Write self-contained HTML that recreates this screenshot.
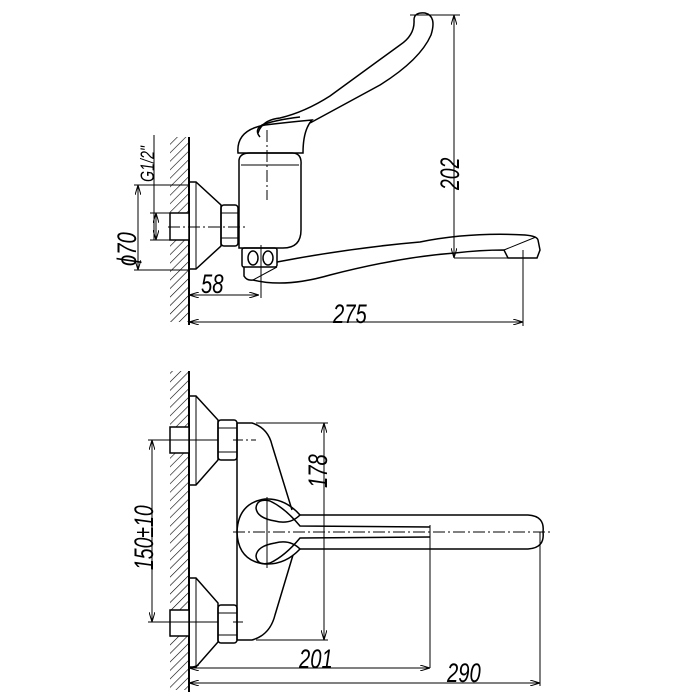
<!DOCTYPE html>
<html><head><meta charset="utf-8"><style>
html,body{margin:0;padding:0;background:#fff;}
svg{display:block}
text{font-family:"Liberation Sans",sans-serif;font-style:italic;fill:#000;}
</style></head><body>
<svg width="700" height="700" viewBox="0 0 700 700" xmlns="http://www.w3.org/2000/svg">
<defs>
<pattern id="h" width="6" height="6" patternUnits="userSpaceOnUse" patternTransform="rotate(45)">
<line x1="0" y1="0" x2="0" y2="6" stroke="#000" stroke-width="1.2"/>
</pattern>
<marker id="a" viewBox="0 0 10 6" refX="10" refY="3" markerWidth="10" markerHeight="6" orient="auto-start-reverse" markerUnits="userSpaceOnUse">
<path d="M0,0 L10,3 L0,6" fill="none" stroke="#000" stroke-width="1"/>
</marker>
</defs>
<g fill="none" stroke="#000" stroke-width="1.5">
<rect x="170" y="137" width="19" height="76" fill="url(#h)" stroke="none"/>
<rect x="170" y="240" width="19" height="82" fill="url(#h)" stroke="none"/>
<line x1="189" y1="137" x2="189" y2="325" stroke-width="2"/>
<rect x="170" y="213" width="19" height="27" fill="#fff"/>
<path d="M189,182 L196,182 L221,205 L221,246 L196,269 L189,269"/>
<line x1="196" y1="182" x2="196" y2="269" stroke-width="1"/>
<rect x="221" y="205" width="17" height="41" rx="3"/>
<line x1="221" y1="213" x2="238" y2="213" stroke-width="1"/>
<line x1="221" y1="238" x2="238" y2="238" stroke-width="1"/>
<path d="M239,160 Q240,153 250,153 L292,153 Q302,153 301,165 L301,230 Q301,248 283,248 L239,248 Z"/>
<line x1="241" y1="165" x2="299" y2="165" stroke-width="1"/>
<path d="M238,153 Q236,130 265,125 Q290,122 312,120 Q303,130 303,153 Z"/>
<path d="M258,133 Q262,120 280,118 Q305,112 330,96 L400,45 Q415,35 414,20 Q414,12 425,13 Q437,16 431,35 Q420,60 380,85 L310,123"/>
<path d="M260,137 Q254,130 262,125 Q275,120 300,117"/>
<line x1="267" y1="130" x2="267" y2="200" stroke-width="1" stroke-dasharray="12,3,2,3"/>
<line x1="168" y1="227" x2="247" y2="227" stroke-width="1" stroke-dasharray="12,3,2,3"/>
<rect x="242" y="248" width="35" height="19" rx="2"/>
<ellipse cx="253" cy="258" rx="5" ry="7"/>
<ellipse cx="268" cy="258" rx="5" ry="7"/>
<line x1="261" y1="245" x2="261" y2="298" stroke-width="1"/>
<path d="M244,267 L244,276 Q247,281 253,280"/>
<path d="M277,262 Q350,248 420,242 Q470,232 525,235 Q537,236 538,240 L540,250 L537,258 L508,258 L504,250 Q480,250 455,253 Q400,257 330,275 Q285,288 253,280"/>
<path d="M277,267 L253,280" stroke-width="1"/>
<path d="M504,250 L536,237" stroke-width="1"/>
<line x1="454" y1="258" x2="508" y2="258" stroke-width="1"/>
<g stroke-width="1">
<line x1="410" y1="15" x2="460" y2="15"/>
<line x1="454" y1="15" x2="454" y2="258" marker-start="url(#a)" marker-end="url(#a)"/>
<line x1="523" y1="250" x2="523" y2="326"/>
<line x1="189" y1="322" x2="523" y2="322" marker-start="url(#a)" marker-end="url(#a)"/>
<line x1="189" y1="295" x2="259" y2="295" marker-start="url(#a)" marker-end="url(#a)"/>
<line x1="134" y1="185" x2="189" y2="185"/>
<line x1="134" y1="270" x2="189" y2="270"/>
<line x1="138" y1="185" x2="138" y2="270" marker-start="url(#a)" marker-end="url(#a)"/>
<line x1="154" y1="135" x2="154" y2="240"/>
<line x1="150" y1="213" x2="170" y2="213"/>
<line x1="150" y1="240" x2="170" y2="240"/>
<line x1="156" y1="213" x2="156" y2="240" marker-start="url(#a)" marker-end="url(#a)"/>
</g>

<rect x="170" y="371" width="19" height="56" fill="url(#h)" stroke="none"/>
<rect x="170" y="453" width="19" height="157" fill="url(#h)" stroke="none"/>
<rect x="170" y="636" width="19" height="54" fill="url(#h)" stroke="none"/>
<line x1="189" y1="371" x2="189" y2="692" stroke-width="2"/>
<rect x="170" y="427" width="19" height="26" fill="#fff"/>
<rect x="170" y="610" width="19" height="26" fill="#fff"/>
<path d="M189,396 L196,396 L218,420 L218,460 L196,485 L189,485"/>
<line x1="196" y1="396" x2="196" y2="485" stroke-width="1"/>
<path d="M189,578 L196,578 L218,603 L218,642 L196,667 L189,667"/>
<line x1="196" y1="578" x2="196" y2="667" stroke-width="1"/>
<rect x="218" y="420" width="19" height="40" rx="3"/>
<line x1="218" y1="428" x2="237" y2="428" stroke-width="1"/>
<line x1="218" y1="452" x2="237" y2="452" stroke-width="1"/>
<rect x="218" y="605" width="19" height="38" rx="3"/>
<line x1="218" y1="613" x2="237" y2="613" stroke-width="1"/>
<line x1="218" y1="635" x2="237" y2="635" stroke-width="1"/>
<line x1="233" y1="440" x2="256" y2="440" stroke-width="1" stroke-dasharray="10,3,2,3"/>
<line x1="233" y1="622" x2="245" y2="622" stroke-width="1" stroke-dasharray="10,3,2,3"/>
<line x1="237" y1="423" x2="237" y2="640"/>
<path d="M237,423 L252,423 Q268,428 272,445 L292,510"/>
<path d="M237,640 L252,640 Q270,635 275,615 L293,555"/>
<path d="M300,515 Q285,498 265,499 Q238,503 237,532 Q238,561 265,564 Q285,565 300,549"/>
<path d="M300,515 Q290,525 275,521 Q257,518 256,508 Q257,498 270,501 Q285,508 300,526 L430,527"/>
<path d="M300,549 Q290,539 275,543 Q257,546 256,556 Q257,566 270,563 Q285,556 300,538 L430,537"/>
<line x1="430" y1="525" x2="430" y2="668" stroke-width="1"/>
<path d="M300,515 L528,515 Q545,516 543,532 Q545,548 528,549 L300,549"/>
<line x1="233" y1="532" x2="550" y2="532" stroke-width="1" stroke-dasharray="12,3,2,3"/>
<line x1="267" y1="497" x2="267" y2="568" stroke-width="1"/>
<g stroke-width="1">
<line x1="256" y1="423" x2="328" y2="423"/>
<line x1="256" y1="640" x2="328" y2="640"/>
<line x1="324" y1="423" x2="324" y2="640" marker-start="url(#a)" marker-end="url(#a)"/>
<line x1="148" y1="440" x2="218" y2="440"/>
<line x1="148" y1="622" x2="218" y2="622"/>
<line x1="152" y1="440" x2="152" y2="622" marker-start="url(#a)" marker-end="url(#a)"/>
<line x1="189" y1="668" x2="430" y2="668" marker-start="url(#a)" marker-end="url(#a)"/>
<line x1="540" y1="532" x2="540" y2="686"/>
<line x1="189" y1="683" x2="540" y2="683" marker-start="url(#a)" marker-end="url(#a)"/>
</g>
</g>
<g font-size="27">
<text x="0" y="0" transform="translate(459,190) rotate(-90) scale(0.72,1)">202</text>
<text x="0" y="0" transform="translate(333,323) scale(0.75,1)">275</text>
<text x="0" y="0" transform="translate(201,293) scale(0.75,1)">58</text>
<text x="0" y="0" transform="translate(136,266) rotate(-90) scale(0.75,1)">ϕ70</text>
<text x="0" y="0" font-size="19" transform="translate(154,182) rotate(-90) scale(0.75,1)">G1/2"</text>
<text x="0" y="0" transform="translate(327,488) rotate(-90) scale(0.75,1)">178</text>
<text x="0" y="0" transform="translate(153,570) rotate(-90) scale(0.72,1)">150±10</text>
<text x="0" y="0" transform="translate(299,668) scale(0.75,1)">201</text>
<text x="0" y="0" transform="translate(447,682) scale(0.75,1)">290</text>
</g>
</svg>
</body></html>
